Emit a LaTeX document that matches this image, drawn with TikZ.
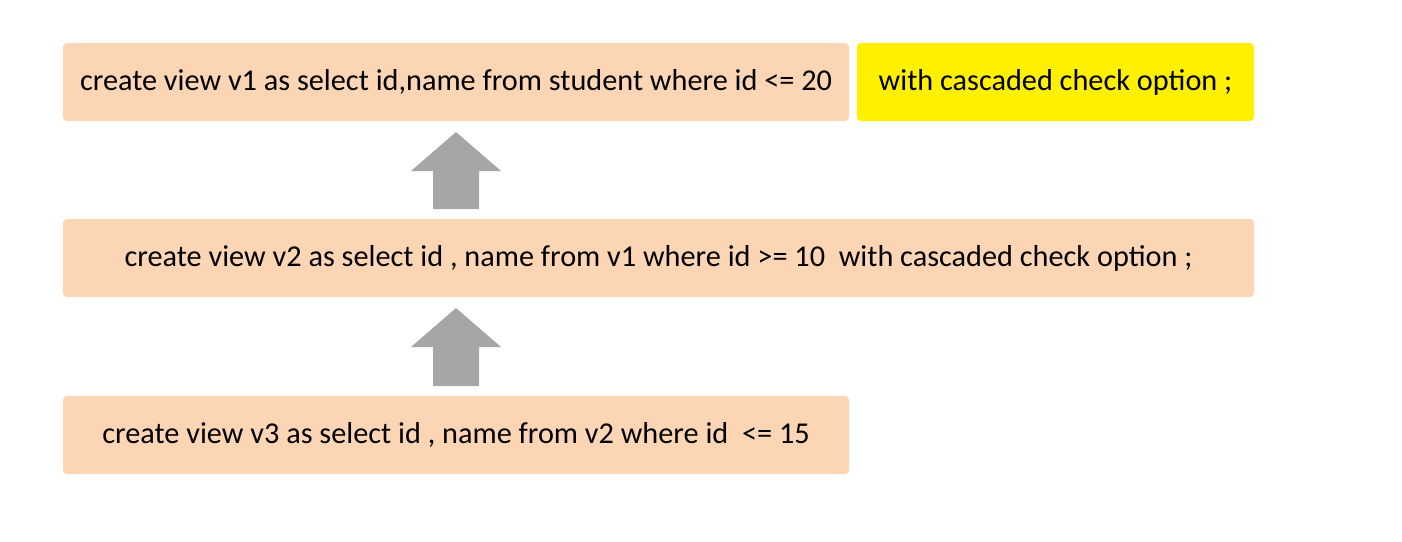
\documentclass[tikz,border=0pt]{standalone}
\usepackage{fontspec}
\setmainfont{Carlito}
\usetikzlibrary{positioning,calc}
\definecolor{viewPeach}{HTML}{FCD5B5}
\definecolor{viewYellow}{HTML}{FFF000}
\definecolor{viewGray}{HTML}{A6A6A6}
\tikzset{
  view diagram/.style={
    x=0.75pt, y=-0.75pt,
    every node/.style={font=\fontsize{22.7}{27}\selectfont,
      text=black, inner sep=0pt, outer sep=0pt}
  },
  view box/.style={fill=viewPeach, rounded corners=3pt,
    minimum height=58.5pt, anchor=north west},
  check box/.style={view box, fill=viewYellow},
  view arrow/.style={fill=viewGray, draw=none}
}
% #1: node giving the x position, #2: lower node, #3: upper node
\newcommand{\ViewArrow}[3]{%
  \fill[view arrow] let \p1=(#1.south |- #2.north), \p2=(#1.south |- #3.south) in
    (\x1-17.25pt,\y1+7.5pt) -- (\x1-17.25pt,\y2-37.5pt)
    -- (\x1-33.75pt,\y2-37.5pt) -- (\x1,\y2-8.25pt)
    -- (\x1+33.75pt,\y2-37.5pt) -- (\x1+17.25pt,\y2-37.5pt)
    -- (\x1+17.25pt,\y1+7.5pt) -- cycle;
}

\begin{document}
\begin{tikzpicture}[view diagram]
    \useasboundingbox (0,0) rectangle (1402,542);
    \node[view box, minimum width=589.5pt] (v1) at (63,43)
      {create view v1 as select id,name from student where id <= 20};
    \node[check box, minimum width=297.75pt, right=6pt of v1] (check)
      {with cascaded check option ;};
    \node[view box, minimum width=893.25pt, below=73.5pt of v1.south west,
      anchor=north west] (v2)
      {create view v2 as select id , name from v1 where id >= 10~ with cascaded check option ;};
    \node[view box, minimum width=589.5pt, below=74.25pt of v2.south west,
      anchor=north west] (v3)
      {create view v3 as select id , name from v2 where id~ <= 15};
    \ViewArrow{v1}{v2}{v1}
    \ViewArrow{v3}{v3}{v2}
  \end{tikzpicture}
\end{document}
